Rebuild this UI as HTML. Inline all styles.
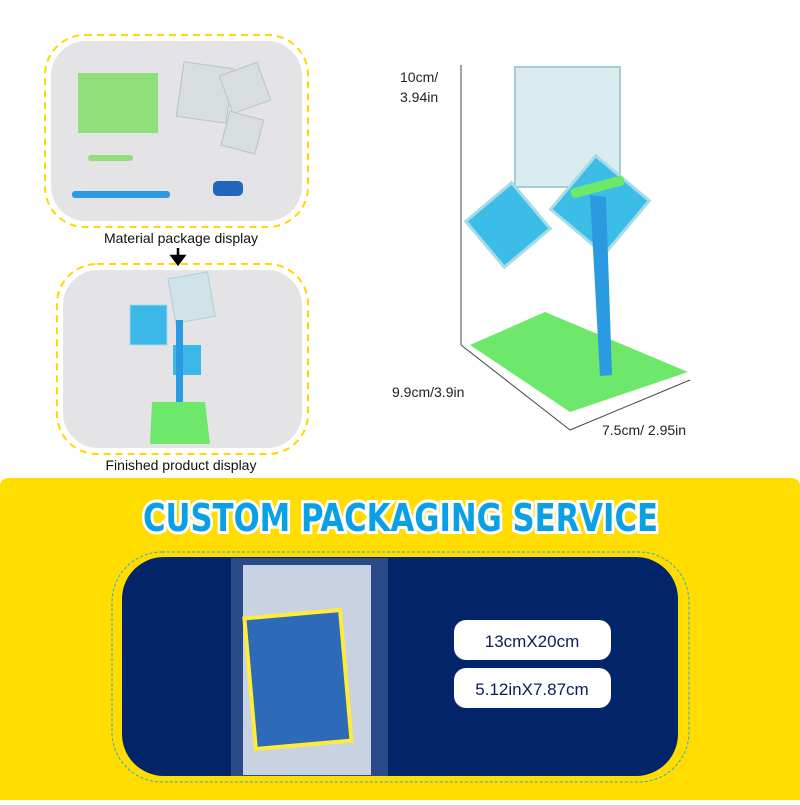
<!DOCTYPE html>
<html><head><meta charset="utf-8"><style>
body{margin:0;width:800px;height:800px;background:#fff;overflow:hidden;font-family:"Liberation Sans",sans-serif;}
</style></head><body>
<svg width="800" height="800" viewBox="0 0 800 800" xmlns="http://www.w3.org/2000/svg" font-family="Liberation Sans, sans-serif">
<rect x="45" y="35" width="263" height="192" rx="40" fill="none" stroke="#FFD800" stroke-width="2" stroke-dasharray="7 5"/>
<rect x="51" y="41" width="251" height="180" rx="35" fill="#e4e3e6"/>
<rect x="78" y="73" width="80" height="60" fill="#8fe07a"/>
<rect x="180" y="65" width="50" height="55" fill="#d8dde0" stroke="#b9c2c6" transform="rotate(8 205 92)"/>
<rect x="225" y="68" width="40" height="40" fill="#d8dde0" stroke="#b9c2c6" transform="rotate(-20 245 88)"/>
<rect x="225" y="115" width="35" height="35" fill="#d8dde0" stroke="#b9c2c6" transform="rotate(15 242 132)"/>
<rect x="88" y="155" width="45" height="6" rx="3" fill="#8fe07a"/>
<rect x="72" y="191" width="98" height="7" rx="3" fill="#2a9be0"/>
<rect x="213" y="181" width="30" height="15" rx="5" fill="#2266bb"/>
<text x="181" y="243" font-size="14" text-anchor="middle" fill="#111">Material package display</text>
<path d="M178 248 V262 M172 256 L178 264 L184 256 Z" stroke="#000" stroke-width="2.5" fill="#000"/>
<rect x="57" y="264" width="251" height="190" rx="40" fill="none" stroke="#FFD800" stroke-width="2" stroke-dasharray="7 5"/>
<rect x="63" y="270" width="239" height="178" rx="35" fill="#e4e3e6"/>
<rect x="130" y="305" width="37" height="40" fill="#3bb8e8" stroke="#a8d8e8"/>
<rect x="172" y="275" width="40" height="45" fill="#cfe3e8" stroke="#a8d0dc" transform="rotate(-10 192 300)"/>
<rect x="173" y="345" width="28" height="30" fill="#3bb8e8"/>
<rect x="176" y="320" width="7" height="95" fill="#2a9be0"/>
<polygon points="152,402 205,402 210,444 150,444" fill="#6ee86a"/>
<text x="181" y="470" font-size="14" text-anchor="middle" fill="#111">Finished product display</text>
<line x1="461" y1="65" x2="461" y2="345" stroke="#444" stroke-width="1"/>
<line x1="461" y1="345" x2="570" y2="430" stroke="#444" stroke-width="1"/>
<line x1="570" y1="430" x2="690" y2="380" stroke="#444" stroke-width="1"/>
<text x="400" y="82" font-size="14" fill="#222">10cm/</text>
<text x="400" y="102" font-size="14" fill="#222">3.94in</text>
<text x="392" y="397" font-size="14" fill="#222">9.9cm/3.9in</text>
<text x="602" y="435" font-size="14" fill="#222">7.5cm/ 2.95in</text>
<polygon points="470,345 545,312 688,372 570,412" fill="#6ee86a"/>
<rect x="515" y="67" width="105" height="120" fill="#d9ecef" stroke="#a6ccd6" stroke-width="2"/>
<rect x="478" y="195" width="60" height="60" fill="#3bbde8" stroke="#a6dce8" stroke-width="3" transform="rotate(-40 508 225)"/>
<rect x="565" y="170" width="70" height="70" fill="#3bbde8" stroke="#a6dce8" stroke-width="3" transform="rotate(40 600 205)"/>
<polygon points="590,195 606,197 612,375 600,376" fill="#2a9be0"/>
<rect x="570" y="182" width="55" height="10" rx="4" fill="#6ee86a" transform="rotate(-15 597 187)"/>
<rect x="0" y="478" width="800" height="340" rx="8" fill="#FFDD00"/>
<text x="143" y="531" font-size="38" font-weight="bold" textLength="515" lengthAdjust="spacingAndGlyphs" fill="#0aa0e6" stroke="#fff" stroke-width="6" paint-order="stroke" style="font-family:'DejaVu Sans Condensed','Liberation Sans',sans-serif">CUSTOM  PACKAGING  SERVICE</text>
<rect x="112" y="552" width="577" height="230" rx="50" fill="none" stroke="#2aa8e0" stroke-width="1" stroke-dasharray="3 2"/>
<rect x="122" y="557" width="556" height="219" rx="42" fill="#022569"/>
<rect x="231" y="558" width="157" height="218" fill="#2a4a8a"/>
<rect x="243" y="565" width="128" height="210" fill="#c8d2e2"/>
<rect x="248" y="612" width="100" height="135" fill="#ffec3a" transform="rotate(-5 298 680)"/>
<rect x="252" y="616" width="92" height="127" fill="#2d6ab8" transform="rotate(-5 298 680)"/>
<rect x="454" y="620" width="157" height="40" rx="12" fill="#fff"/>
<text x="532" y="647" font-size="17" text-anchor="middle" fill="#0b1f55">13cmX20cm</text>
<rect x="454" y="668" width="157" height="40" rx="12" fill="#fff"/>
<text x="532" y="695" font-size="17" text-anchor="middle" fill="#0b1f55">5.12inX7.87cm</text>
</svg>
</body></html>
